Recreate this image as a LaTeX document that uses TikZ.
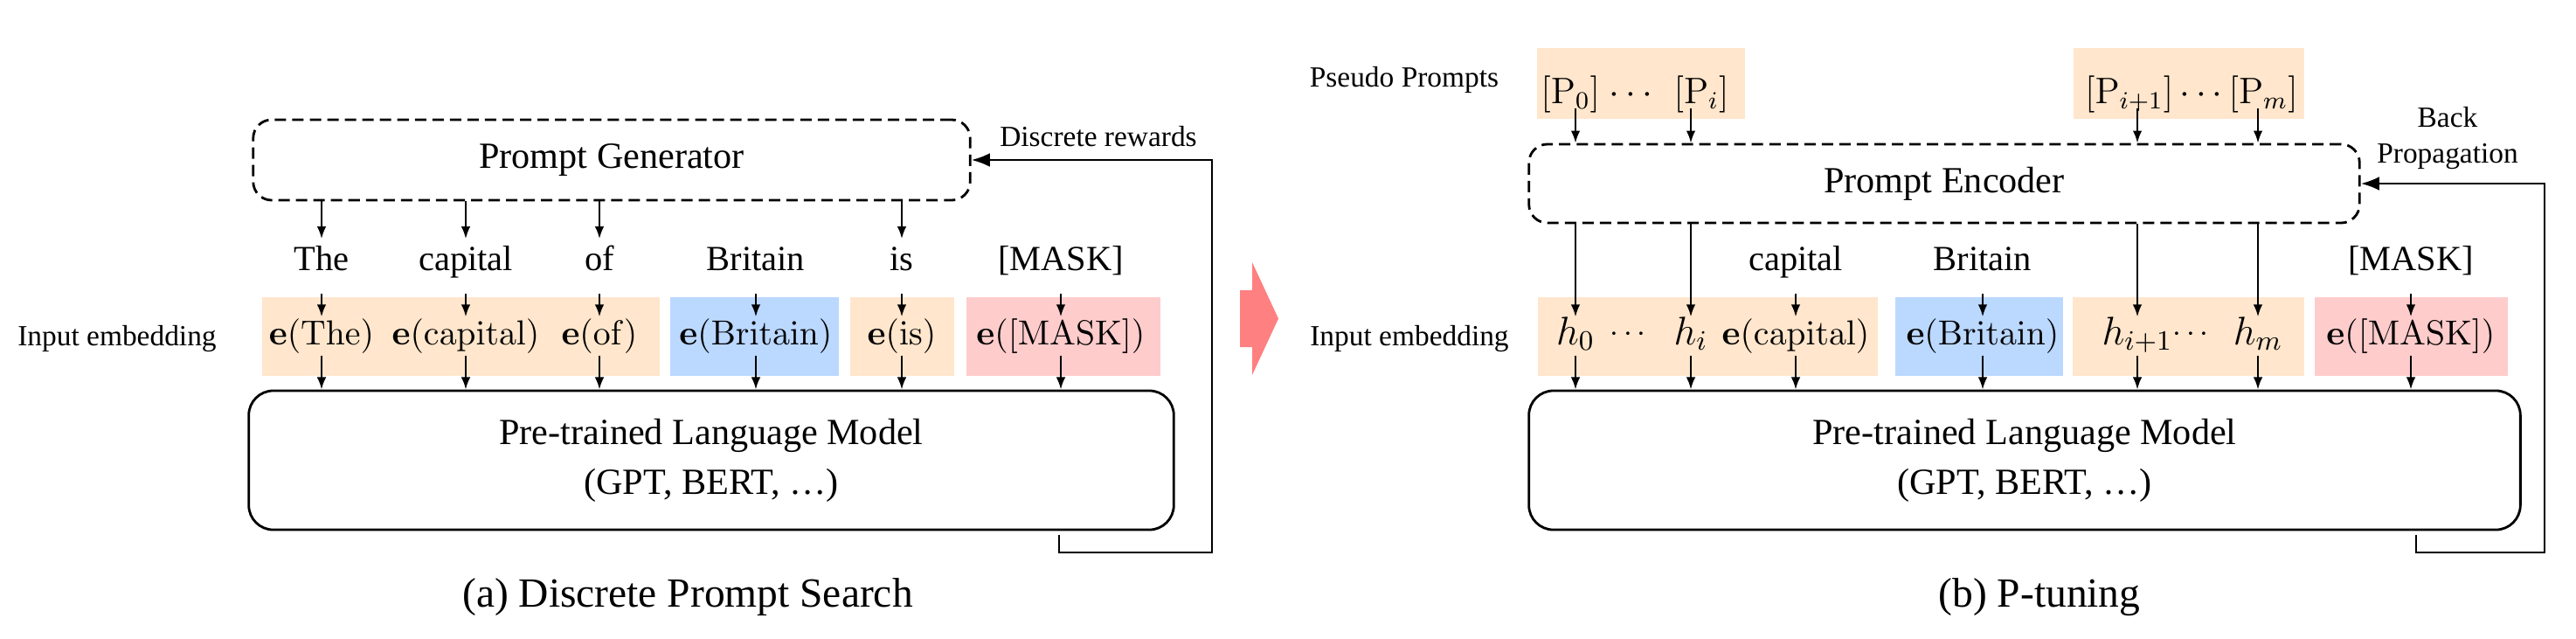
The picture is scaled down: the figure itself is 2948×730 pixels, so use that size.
\documentclass[tikz,border=0pt]{standalone}
\usepackage{fix-cm}
\usepackage[no-math]{fontspec}
\setmainfont{Liberation Serif}
\usepackage{amsmath}
\usepackage{xcolor}
\usetikzlibrary{arrows.meta,positioning}
\definecolor{embOrange}{RGB}{255,230,204}
\definecolor{embBlue}{RGB}{187,216,255}
\definecolor{embPink}{RGB}{255,204,204}
\definecolor{arrowRed}{RGB}{255,128,128}

\begin{document}
\begin{tikzpicture}[x=0.01cm,y=-0.01cm,
  word/.style={inner sep=0pt, inner ysep=2pt, text height=8pt, text depth=5.6pt, font=\fontsize{11.5}{13}\selectfont},
  emb/.style={inner sep=0pt, text height=8.8pt, text depth=3.4pt, font=\fontsize{11.3}{13}\selectfont},
  hemb/.style={emb, font=\fontsize{13}{15}\selectfont},
  hdots/.style={emb, font=\fontsize{10}{12}\selectfont},
  pseudo/.style={inner sep=0pt, text height=9pt, text depth=1.5pt, font=\fontsize{12}{14}\selectfont},
  label/.style={inner sep=0pt, font=\fontsize{9.5}{11}\selectfont},
  caption/.style={inner sep=0pt, font=\fontsize{13.5}{15}\selectfont},
  dashbox/.style={draw, line width=0.8pt, dash pattern=on 3.7pt off 2pt, rounded corners=6pt, font=\fontsize{12}{14}\selectfont},
  lmbox/.style={draw, line width=0.8pt, rounded corners=8pt, align=center, font=\fontsize{12}{16.2}\selectfont},
  arr/.style={-{Latex[length=4pt,width=3pt]}, line width=0.6pt},
  fb/.style={-{Latex[length=6pt,width=4.5pt]}, line width=0.8pt}]
  \useasboundingbox (0,0) rectangle (2948,730);

  % (a) discrete prompt search
  \fill[embOrange] (300,340) rectangle (755,430);
  \fill[embBlue] (767,340) rectangle (960,430);
  \fill[embOrange] (973,340) rectangle (1092,430);
  \fill[embPink] (1106,340) rectangle (1328,430);

  \node[dashbox, minimum width=82mm, minimum height=9.2mm] (gen) at (700,183) {Prompt Generator};
  \node[lmbox, minimum width=105.8mm, minimum height=15.9mm] (lmA) at (814,526.5) {Pre-trained Language Model\\(GPT, BERT, \ldots)};

  \node[word, anchor=base] (wTheA) at (368,309) {The};
  \node[word, anchor=base] (wCapA) at (533,309) {capital};
  \node[word, anchor=base] (wOfA) at (686,309) {of};
  \node[word, anchor=base] (wBriA) at (865,309) {Britain};
  \node[word, anchor=base] (wIsA) at (1032,309) {is};
  \node[word, anchor=base] (wMaskA) at (1214,309) {[MASK]};

  \node[emb, anchor=base] (eTheA) at (368,394) {$\mathbf{e}(\mathrm{The})$};
  \node[emb, anchor=base] (eCapA) at (533,394) {$\mathbf{e}(\mathrm{capital})$};
  \node[emb, anchor=base] (eOfA) at (686,394) {$\mathbf{e}(\mathrm{of})$};
  \node[emb, anchor=base] (eBriA) at (865,394) {$\mathbf{e}(\mathrm{Britain})$};
  \node[emb, anchor=base] (eIsA) at (1032,394) {$\mathbf{e}(\mathrm{is})$};
  \node[emb, anchor=base] (eMaskA) at (1214,394) {$\mathbf{e}([\mathrm{MASK}])$};

  \node[label] (inA) at (134,388) {Input embedding};
  \node[label] (rewards) at (1257,156) {Discrete rewards};
  \node[caption] (capA) at (787,683) {(a) Discrete Prompt Search};

  \foreach \w in {The,Cap,Of,Is}
    \draw[arr] (gen.south -| w\w A) -- (w\w A);
  \foreach \w in {The,Cap,Of,Bri,Is,Mask} {
    \draw[arr] (w\w A) -- (e\w A);
    \draw[arr] (e\w A) -- (e\w A |- lmA.north);
  }
  \coordinate (fbA) at (1212,612);
  \coordinate (cornA) at (1387,632);
  \draw[fb] (fbA) |- (cornA) |- (gen.east);

  % arrow between panels
  \fill[arrowRed] (1419,332) -- (1433,332) -- (1433,300) -- (1463,364.5) -- (1433,429) -- (1433,397) -- (1419,397) -- cycle;

  % (b) p-tuning
  \fill[embOrange] (1759,55) rectangle (1997,136);
  \fill[embOrange] (2373,55) rectangle (2637,136);
  \fill[embOrange] (1760,340) rectangle (2149,430);
  \fill[embBlue] (2169,340) rectangle (2361,430);
  \fill[embOrange] (2372,340) rectangle (2637,430);
  \fill[embPink] (2649,340) rectangle (2870,430);

  \node[dashbox, minimum width=95mm, minimum height=9mm] (enc) at (2225,210) {Prompt Encoder};
  \node[lmbox, minimum width=113.4mm, minimum height=15.9mm] (lmB) at (2317,526.5) {Pre-trained Language Model\\(GPT, BERT, \ldots)};

  \node[pseudo, anchor=base] (ppA) at (1871,118) {$[\mathrm{P}_0]$ $\cdots$ \,$[\mathrm{P}_i]$};
  \node[pseudo, anchor=base] (ppB) at (2508,118) {$[\mathrm{P}_{i+1}]\cdots[\mathrm{P}_m]$};

  \node[word, anchor=base] (wCapB) at (2055,309) {capital};
  \node[word, anchor=base] (wBriB) at (2269,309) {Britain};
  \node[word, anchor=base] (wMaskB) at (2759,309) {[MASK]};

  \node[hemb, anchor=base] (h0) at (1803,394) {$h_0$};
  \node[hdots, anchor=base] (hdotsA) at (1866,390) {$\cdots$};
  \node[hemb, anchor=base] (hi) at (1935,394) {$h_i$};
  \node[emb, anchor=base] (eCapB) at (2055,394) {$\mathbf{e}(\mathrm{capital})$};
  \node[emb, anchor=base] (eBriB) at (2269,394) {$\mathbf{e}(\mathrm{Britain})$};
  \node[hemb, anchor=base] (hi1) at (2446,394) {$h_{i+1}$};
  \node[hdots, anchor=base] (hdotsB) at (2510,390) {$\cdots$};
  \node[hemb, anchor=base] (hm) at (2584,394) {$h_m$};
  \node[emb, anchor=base] (eMaskB) at (2759,394) {$\mathbf{e}([\mathrm{MASK}])$};

  \node[label] (pseudoLbl) at (1607,91) {Pseudo Prompts};
  \node[label] (inB) at (1613,388) {Input embedding};
  \node[label, align=center, font=\fontsize{9.5}{11.5}\selectfont] (backprop) at (2801,158) {Back\\Propagation};
  \node[caption] (capB) at (2334,683) {(b) P-tuning};

  \draw[arr] (h0 |- ppA.south) -- (h0 |- enc.north);
  \draw[arr] (hi |- ppA.south) -- (hi |- enc.north);
  \draw[arr] (hi1 |- ppB.south) -- (hi1 |- enc.north);
  \draw[arr] (hm |- ppB.south) -- (hm |- enc.north);
  \foreach \h in {h0,hi,hi1,hm}
    \draw[arr] (enc.south -| \h) -- (\h);
  \foreach \w in {Cap,Bri,Mask}
    \draw[arr] (w\w B) -- (e\w B);
  \foreach \e in {h0,hi,eCapB,eBriB,hi1,hm,eMaskB}
    \draw[arr] (\e) -- (\e |- lmB.north);
  \coordinate (fbB) at (2765,612);
  \coordinate (cornB) at (2912,632);
  \draw[fb] (fbB) |- (cornB) |- (enc.east);
\end{tikzpicture}
\end{document}
